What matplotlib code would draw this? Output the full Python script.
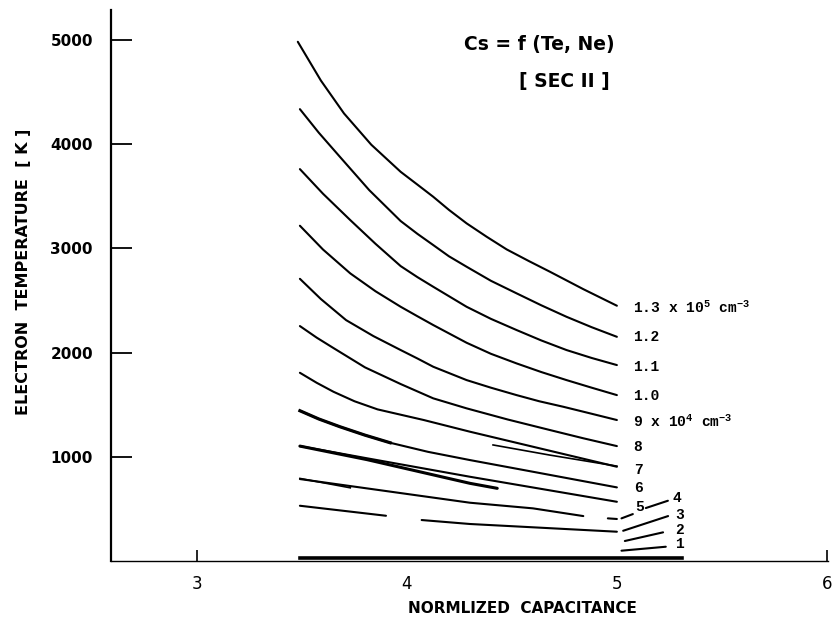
import matplotlib
matplotlib.use("Agg")
import matplotlib.pyplot as plt

plt.rcParams['mathtext.default'] = 'regular'

# density labels (right side) and curves: normalized capacitance vs electron temperature
labels = ["1.3 x 10$^5$ cm$^{-3}$", "1.2", "1.1", "1.0", "9 x 10$^4$ cm$^{-3}$",
          "8", "7", "6", "5", "4", "3", "2", "1"]

cap_13 = [3.48, 3.59, 3.70, 3.83, 3.97, 4.05, 4.125, 4.20, 4.284, 4.38, 4.475, 4.58, 4.681, 4.84, 5.0]
te_13 = [4982, 4610, 4295, 3995, 3735, 3612, 3496, 3370, 3241, 3112, 2991, 2880, 2777, 2610, 2451]
cap_12 = [3.49, 3.58, 3.68, 3.82, 3.97, 4.05, 4.125, 4.20, 4.284, 4.40, 4.522, 4.64, 4.76, 4.88, 5.0]
te_12 = [4336, 4110, 3880, 3560, 3263, 3140, 3033, 2925, 2825, 2690, 2570, 2455, 2345, 2245, 2153]
cap_11 = [3.49, 3.60, 3.73, 3.85, 3.97, 4.05, 4.125, 4.284, 4.40, 4.522, 4.64, 4.76, 4.88, 5.0]
te_11 = [3761, 3525, 3272, 3045, 2831, 2725, 2633, 2441, 2325, 2218, 2118, 2026, 1950, 1882]
cap_10 = [3.49, 3.60, 3.73, 3.85, 3.97, 4.05, 4.125, 4.284, 4.40, 4.522, 4.64, 4.76, 4.88, 5.0]
te_10 = [3218, 2990, 2761, 2590, 2441, 2350, 2266, 2096, 1990, 1898, 1815, 1738, 1665, 1594]
cap_9 = [3.49, 3.59, 3.71, 3.84, 3.97, 4.05, 4.125, 4.284, 4.40, 4.522, 4.63, 4.745, 4.87, 5.0]
te_9 = [2709, 2515, 2313, 2160, 2026, 1945, 1866, 1738, 1665, 1594, 1535, 1482, 1420, 1355]
cap_8 = [3.49, 3.57, 3.65, 3.80, 3.97, 4.125, 4.284, 4.48, 4.681, 4.84, 5.0]
te_8 = [2256, 2145, 2045, 1860, 1700, 1563, 1467, 1360, 1259, 1180, 1105]
cap_7 = [3.49, 3.57, 3.65, 3.75, 3.86, 4.08, 4.30, 4.60, 5.0]
te_7 = [1808, 1712, 1626, 1535, 1457, 1355, 1243, 1099, 907]
cap_7b = [4.41, 4.68, 5.0]
te_7b = [1116, 1019, 913]
cap_6 = [3.49, 3.58, 3.68, 3.80, 3.92, 4.10, 4.30, 4.60, 5.0]
te_6 = [1444, 1365, 1291, 1210, 1137, 1050, 971, 859, 709]
cap_5 = [3.49, 3.81, 4.30, 5.0]
te_5 = [1105, 988, 811, 571]
cap_5b = [3.49, 3.81, 4.30, 4.43]
te_5b = [1105, 975, 748, 700]
cap_4 = [3.49, 4.30, 4.60, 4.84]
te_4 = [789, 562, 508, 434]
cap_4b = [3.49, 3.73]
te_4b = [795, 705]
cap_4c = [4.957, 5.0]
te_4c = [412, 406]
cap_4d = [5.022, 5.076]
te_4d = [412, 453]
cap_4e = [5.138, 5.243]
te_4e = [511, 581]
cap_3a = [3.49, 3.90]
te_3a = [533, 437]
cap_3b = [4.07, 4.30, 5.0]
te_3b = [396, 358, 284]
cap_3c = [5.03, 5.244]
te_3c = [293, 434]
cap_2 = [5.038, 5.22]
te_2 = [195, 278]
cap_1 = [5.022, 5.233]
te_1 = [102, 140]

label_x = [5.076, 5.076, 5.076, 5.076, 5.076, 5.08, 5.08, 5.08, 5.085,
           5.267, 5.276, 5.276, 5.276]
label_y = [2429, 2151, 1866, 1585, 1336, 1099, 875, 703, 524, 607, 444, 300, 166]

fig = plt.figure(figsize=(8.32, 6.3), dpi=100)
ax = fig.add_axes([0.1334, 0.109, 0.8616, 0.875])

thin = dict(color='black', lw=1.5, solid_capstyle='round', solid_joinstyle='round')
for cx, ty in [(cap_13, te_13), (cap_12, te_12), (cap_11, te_11), (cap_10, te_10),
               (cap_9, te_9), (cap_8, te_8), (cap_7, te_7), (cap_6, te_6),
               (cap_5, te_5), (cap_4, te_4), (cap_4c, te_4c), (cap_4d, te_4d),
               (cap_4e, te_4e), (cap_3a, te_3a), (cap_3b, te_3b), (cap_3c, te_3c),
               (cap_2, te_2), (cap_1, te_1)]:
    ax.plot(cx, ty, **thin)
# doubled pen strokes
ax.plot(cap_7b, te_7b, color='black', lw=1.2)
ax.plot(cap_5b, te_5b, color='black', lw=2.2, solid_capstyle='round')
ax.plot(cap_4b, te_4b, color='black', lw=1.2)
ax.plot(cap_6[:5], te_6[:5], color='black', lw=2.3, solid_joinstyle='round')

# thick base line
ax.plot([3.49, 5.31], [28, 28], color='black', lw=2.6)

for txt, x, y in zip(labels, label_x, label_y):
    ax.text(x, y, txt, fontsize=10.5, fontweight='bold', family=['Liberation Mono', 'DejaVu Sans'],
            ha='left', va='center')

ax.text(4.63, 4955, "Cs = f (Te, Ne)", fontsize=13.5, fontweight='bold', ha='center', va='center')
ax.text(4.75, 4600, "[ SEC II ]", fontsize=13.5, fontweight='bold', ha='center', va='center')

ax.set_xlim(2.59, 6.005)
ax.set_ylim(0, 5286)
ax.spines['top'].set_visible(False)
ax.spines['right'].set_visible(False)
ax.spines['left'].set_linewidth(1.6)
ax.spines['bottom'].set_linewidth(1.0)

ax.set_yticks([1000, 2000, 3000, 4000, 5000])
ax.set_xticks([3, 4, 5, 6])
ax.tick_params(axis='y', direction='in', length=15, width=1.3, pad=13, labelsize=11)
ax.tick_params(axis='x', direction='in', length=8, width=1.2, pad=10, labelsize=12)
for lab in ax.get_yticklabels():
    lab.set_fontweight('bold')
for i in (1, 2):
    ax.xaxis.get_major_ticks()[i].tick1line.set_visible(False)

ax.set_xlabel("NORMLIZED  CAPACITANCE", fontsize=11, fontweight='bold')
ax.xaxis.set_label_coords(0.574, -0.072)
ax.set_ylabel("ELECTRON  TEMPERATURE  [ K ]", fontsize=11.5, fontweight='bold')
ax.yaxis.set_label_coords(-0.112, 0.525)

fig.savefig("out.png", dpi=100)
